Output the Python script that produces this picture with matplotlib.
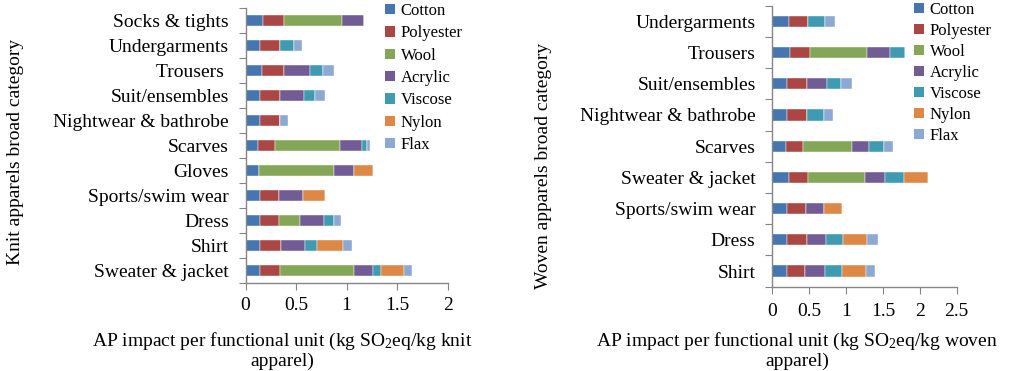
import matplotlib
matplotlib.use("Agg")
import matplotlib.pyplot as plt
from matplotlib.patches import Patch
from matplotlib import font_manager
import numpy as np

serif_name = "Liberation Serif"
names = {f.name for f in font_manager.fontManager.ttflist}
if serif_name not in names:
    serif_name = "DejaVu Serif"
plt.rcParams['font.family'] = [serif_name, 'DejaVu Serif']
plt.rcParams['mathtext.fontset'] = 'custom'
plt.rcParams['mathtext.rm'] = serif_name
plt.rcParams['mathtext.it'] = serif_name + ':italic'

fibers = ["Cotton", "Polyester", "Wool", "Acrylic", "Viscose", "Nylon", "Flax"]
colors = ["#4676B0", "#AA4744", "#83A757", "#725C96", "#3E9BB1", "#DD8846", "#8BA9D2"]

# Knit apparels (top to bottom)
knit_categories = ["Socks & tights", "Undergarments", "Trousers ", "Suit/ensembles",
                   "Nightwear & bathrobe", "Scarves", "Gloves", "Sports/swim wear",
                   "Dress", "Shirt", "Sweater & jacket"]
knit_cotton    = [0.17, 0.14, 0.16, 0.14, 0.14, 0.12, 0.13, 0.14, 0.14, 0.14, 0.14]
knit_polyester = [0.21, 0.20, 0.22, 0.20, 0.20, 0.17, 0.00, 0.19, 0.19, 0.21, 0.20]
knit_wool      = [0.57, 0.00, 0.00, 0.00, 0.00, 0.64, 0.75, 0.00, 0.21, 0.00, 0.73]
knit_acrylic   = [0.22, 0.00, 0.26, 0.24, 0.00, 0.22, 0.19, 0.24, 0.24, 0.24, 0.19]
knit_viscose   = [0.00, 0.14, 0.13, 0.11, 0.00, 0.05, 0.00, 0.00, 0.10, 0.12, 0.08]
knit_nylon     = [0.00, 0.00, 0.00, 0.00, 0.00, 0.00, 0.19, 0.22, 0.00, 0.25, 0.23]
knit_flax      = [0.00, 0.08, 0.11, 0.10, 0.08, 0.03, 0.00, 0.00, 0.06, 0.09, 0.08]

# Woven apparels (top to bottom)
woven_categories = ["Undergarments", "Trousers", "Suit/ensembles", "Nightwear & bathrobe",
                    "Scarves", "Sweater & jacket", "Sports/swim wear", "Dress", "Shirt"]
woven_cotton    = [0.22, 0.24, 0.20, 0.20, 0.18, 0.22, 0.20, 0.20, 0.20]
woven_polyester = [0.26, 0.27, 0.27, 0.27, 0.23, 0.27, 0.26, 0.27, 0.25]
woven_wool      = [0.00, 0.78, 0.00, 0.00, 0.67, 0.76, 0.00, 0.00, 0.00]
woven_acrylic   = [0.00, 0.30, 0.27, 0.00, 0.23, 0.28, 0.24, 0.26, 0.27]
woven_viscose   = [0.24, 0.21, 0.19, 0.23, 0.20, 0.25, 0.00, 0.23, 0.23]
woven_nylon     = [0.00, 0.00, 0.00, 0.00, 0.00, 0.33, 0.24, 0.33, 0.32]
woven_flax      = [0.13, 0.00, 0.15, 0.12, 0.12, 0.00, 0.00, 0.14, 0.12]

knit_series = [knit_cotton, knit_polyester, knit_wool, knit_acrylic, knit_viscose, knit_nylon, knit_flax]
woven_series = [woven_cotton, woven_polyester, woven_wool, woven_acrylic, woven_viscose, woven_nylon, woven_flax]

W, H = 1011, 371
fig = plt.figure(figsize=(W / 100, H / 100), dpi=100)

def px_axes(x0, y0, x1, y1):
    return fig.add_axes([x0 / W, 1 - y1 / H, (x1 - x0) / W, (y1 - y0) / H])

gray = "#868686"

def draw(ax, cats, series, xmax, xticks, xticklabels, bar_h, xpad):
    n = len(cats)
    y = np.arange(n)
    left = np.zeros(n)
    for vals, col, name in zip(series, colors, fibers):
        v = np.array(vals)
        ax.barh(y, v, left=left, height=bar_h, color=col, edgecolor="#ffffff",
                linewidth=0.3, label=name)
        left += v
    ax.set_ylim(n - 0.5, -0.5)
    ax.set_xlim(0, xmax)
    ax.set_yticks(np.arange(n + 1) - 0.5)
    ax.set_yticklabels([])
    ax.set_yticks(y, minor=True)
    ax.set_yticklabels(cats, minor=True, fontsize=14)
    ax.tick_params(axis="y", which="major", length=5, color=gray, direction="out")
    ax.tick_params(axis="y", which="minor", length=0, pad=12)
    ax.set_xticks(xticks)
    ax.set_xticklabels(xticklabels, fontsize=14)
    ax.tick_params(axis="x", length=5, color=gray, direction="out", pad=xpad)
    for s in ("top", "right"):
        ax.spines[s].set_visible(False)
    for s in ("left", "bottom"):
        ax.spines[s].set_color(gray)
        ax.spines[s].set_linewidth(1.0)

ax1 = px_axes(245.5, 8, 447.7, 283.3)
draw(ax1, knit_categories, knit_series, 2, [0, 0.5, 1, 1.5, 2], ["0", "0.5", "1", "1.5", "2"], 0.43, 5)

ax2 = px_axes(772.3, 5.7, 956.7, 286.7)
draw(ax2, woven_categories, woven_series, 2.5, [0, 0.5, 1, 1.5, 2, 2.5],
     ["0", "0.5", "1", "1.5", "2", "2.5"], 0.36, 6.5)

handles = [Patch(facecolor=c, edgecolor="none") for c in colors]

def legend(x, y, spacing):
    fig.legend(handles, fibers, loc="upper left", bbox_to_anchor=(x / W, 1 - y / H),
               frameon=False, fontsize=12, handlelength=0.6, handleheight=0.6,
               handletextpad=0.35, labelspacing=spacing, borderaxespad=0, borderpad=0)

legend(385, 3, 0.38)
legend(914, 2, 0.30)

# axis titles
fig.text(16 / W, 1 - 152 / H, "Knit apparels broad category", rotation=90,
         ha="center", va="center", fontsize=14)
fig.text(543 / W, 1 - 166 / H, "Woven apparels broad category", rotation=90,
         ha="center", va="center", fontsize=14)

fig.text(282 / W, 1 - 350 / H, "AP impact per functional unit (kg SO$_2$eq/kg knit\napparel)",
         ha="center", va="center", fontsize=14, linespacing=1.05)
fig.text(797 / W, 1 - 350 / H, "AP impact per functional unit (kg SO$_2$eq/kg woven\napparel)",
         ha="center", va="center", fontsize=14, linespacing=1.05)

fig.savefig("out.png", dpi=100)
